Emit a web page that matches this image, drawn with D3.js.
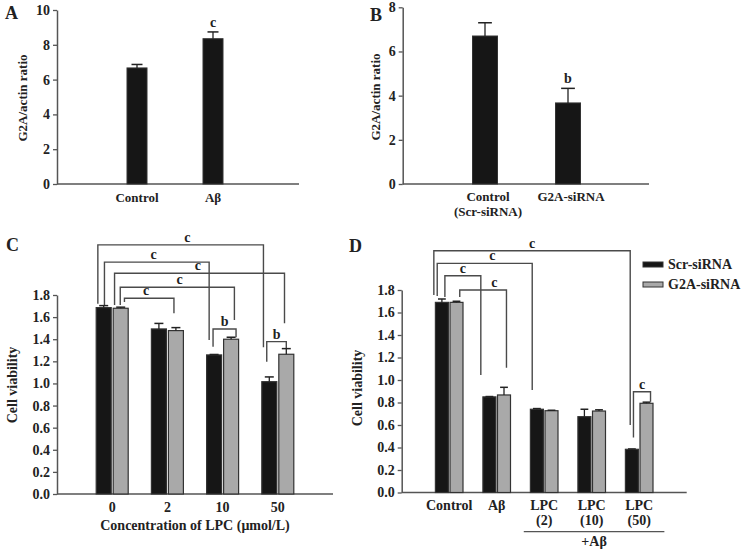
<!DOCTYPE html>
<html><head><meta charset="utf-8">
<script src="https://cdn.jsdelivr.net/npm/d3@7"></script>
<style>
body{margin:0;background:#fff}
text{font-family:"Liberation Serif","Times New Roman",serif;font-weight:bold;fill:#222}
</style>
</head><body><svg id="chart" width="746" height="554"></svg>
<script>
// ---------- DATA ----------
// Panel A
const catsA = ["Control", "Aβ"];
const valsA = [6.67, 8.35];
const errA = [0.2, 0.39];
const sigA = ["", "c"];
const ticksA = [0, 2, 4, 6, 8, 10];
// Panel B
const catsB = [["Control", "(Scr-siRNA)"], ["G2A-siRNA"]];
const valsB = [6.70, 3.67];
const errB = [0.60, 0.66];
const sigB = ["", "b"];
const ticksB = [0, 2, 4, 6, 8];
// Panel C
const catsC = ["0", "2", "10", "50"];
const scrC = [1.686, 1.493, 1.258, 1.016];
const scrErrC = [0.018, 0.05, 0.004, 0.043];
const g2aC = [1.68, 1.478, 1.40, 1.264];
const g2aErrC = [0.01, 0.027, 0.018, 0.051];
// Panel D
const catsD = [["Control"], ["Aβ"], ["LPC", "(2)"], ["LPC", "(10)"], ["LPC", "(50)"]];
const scrD = [1.69, 0.85, 0.74, 0.674, 0.384];
const scrErrD = [0.03, 0.003, 0.006, 0.066, 0.003];
const g2aD = [1.69, 0.867, 0.727, 0.724, 0.793];
const g2aErrD = [0.01, 0.068, 0.004, 0.011, 0.01];
const ticksCD = [0, 0.2, 0.4, 0.6, 0.8, 1.0, 1.2, 1.4, 1.6, 1.8];
const seriesNames = ["Scr-siRNA", "G2A-siRNA"];
// significance brackets: a/b = [group, series, offset within bar, leg end value]
const bracketsC = [
  {label: "c", top: 2.253, a: [0, 0, -0.39, 1.72], b: [3, 0, -0.39, 1.328], t: 0.54},
  {label: "c", top: 2.097, a: [0, 0, 0.05, 1.71], b: [2, 0, -0.33, 1.394], t: 0.47},
  {label: "c", top: 1.997, a: [0, 1, -0.41, 1.71], b: [3, 1, -0.12, 1.545], t: 0.49},
  {label: "c", top: 1.87, a: [0, 1, -0.03, 1.71], b: [2, 1, 0.22, 1.575], t: 0.52},
  {label: "c", top: 1.771, a: [0, 1, 0.25, 1.737], b: [1, 1, -0.13, 1.635], t: 0.44},
  {label: "b", top: 1.493, a: [2, 0, -0.07, 1.333], b: [2, 1, 0.33, 1.418], t: 0.5},
  {label: "b", top: 1.378, a: [3, 0, -0.17, 1.197], b: [3, 1, 0.0, 1.318], t: 0.5}
];
const bracketsD = [
  {label: "c", top: 2.149, a: [0, 0, -0.62, 1.756], b: [4, 0, -0.13, 0.60], t: 0.5},
  {label: "c", top: 2.037, a: [0, 0, -0.36, 1.747], b: [2, 0, -0.36, 0.911], t: 0.58},
  {label: "c", top: 1.927, a: [0, 0, 0.23, 1.738], b: [1, 0, -0.66, 1.044], t: 0.5},
  {label: "c", top: 1.80, a: [0, 1, 0.25, 1.738], b: [1, 1, 0.19, 1.109], t: 0.74},
  {label: "c", top: 0.896, a: [4, 0, 0.12, 0.49], b: [4, 1, 0.31, 0.807], t: 0.5}
];

// ---------- DRAW ----------
const svg = d3.select("#chart");
const AX = "#555", INK = "#222";

function yAxis(g, y, x0, ticks, fmt) {
  const ax = g.append("g").attr("transform", `translate(${x0},0)`)
    .call(d3.axisLeft(y).tickValues(ticks).tickSize(4).tickSizeOuter(0).tickPadding(3).tickFormat(fmt));
  ax.select(".domain").attr("stroke", AX).attr("stroke-width", 1.5);
  ax.selectAll(".tick line").attr("stroke", AX).attr("stroke-width", 1.3);
  ax.selectAll(".tick text").style("font-size", "14px").style("font-family", '"Liberation Serif",serif')
    .style("font-weight", "bold").attr("fill", INK);
}
function xLine(g, x0, x1, yy) {
  g.append("line").attr("x1", x0).attr("x2", x1).attr("y1", yy).attr("y2", yy)
    .attr("stroke", AX).attr("stroke-width", 1.5);
}
function errBar(g, cx, y, v, e, w, col) {
  g.append("line").attr("x1", cx).attr("x2", cx).attr("y1", y(v)).attr("y2", y(v + e))
    .attr("stroke", col).attr("stroke-width", 1.3);
  g.append("line").attr("x1", cx - w / 2).attr("x2", cx + w / 2).attr("y1", y(v + e)).attr("y2", y(v + e))
    .attr("stroke", col).attr("stroke-width", 1.5);
}
function vTitle(g, txt, x, yc, size) {
  g.append("text").attr("transform", `translate(${x},${yc}) rotate(-90)`)
    .attr("text-anchor", "middle").style("font-size", size + "px").text(txt);
}
function letter(txt, x, y) {
  svg.append("text").attr("x", x).attr("y", y).style("font-size", "18px").text(txt);
}

// ----- Panel A -----
(function () {
  const g = svg.append("g");
  const y = d3.scaleLinear().domain([0, 10]).range([184, 10]);
  const x = d3.scalePoint().domain(catsA).range([137, 213]);
  const bw = 20;
  xLine(g, 57, 299, y(0));
  catsA.forEach((c, i) => {
    g.append("rect").attr("x", x(c) - bw / 2).attr("y", y(valsA[i])).attr("width", bw)
      .attr("height", y(0) - y(valsA[i])).attr("fill", "#161616").attr("stroke", "#333");
    errBar(g, x(c), y, valsA[i], errA[i], bw * 0.55, INK);
    if (sigA[i]) g.append("text").attr("x", x(c)).attr("y", y(valsA[i] + errA[i]) - 5)
      .attr("text-anchor", "middle").style("font-size", "14px").text(sigA[i]);
    g.append("text").attr("x", x(c)).attr("y", 202).attr("text-anchor", "middle")
      .style("font-size", "13px").text(c);
  });
  yAxis(g, y, 57, ticksA, d3.format("d"));
  vTitle(g, "G2A/actin ratio", 27, 98, 13);
  letter("A", 5, 19);
})();

// ----- Panel B -----
(function () {
  const g = svg.append("g");
  const y = d3.scaleLinear().domain([0, 8]).range([184, 7.3]);
  const keys = catsB.map(d => d.join(" "));
  const x = d3.scalePoint().domain(keys).range([485, 568]);
  const bw = 25;
  xLine(g, 402.7, 649, y(0));
  keys.forEach((k, i) => {
    g.append("rect").attr("x", x(k) - bw / 2).attr("y", y(valsB[i])).attr("width", bw)
      .attr("height", y(0) - y(valsB[i])).attr("fill", "#161616").attr("stroke", "#333");
    errBar(g, x(k), y, valsB[i], errB[i], bw * 0.55, INK);
    if (sigB[i]) g.append("text").attr("x", x(k)).attr("y", y(valsB[i] + errB[i]) - 5)
      .attr("text-anchor", "middle").style("font-size", "14px").text(sigB[i]);
    catsB[i].forEach((line, j) => {
      g.append("text").attr("x", x(k) + 3).attr("y", 201 + j * 15).attr("text-anchor", "middle")
        .style("font-size", "13px").text(line);
    });
  });
  yAxis(g, y, 402.7, ticksB, d3.format("d"));
  vTitle(g, "G2A/actin ratio", 380, 97, 13);
  letter("B", 370, 21);
})();

// grouped panels
function grouped(cfg) {
  const g = svg.append("g");
  const y = d3.scaleLinear().domain([0, 1.8]).range([cfg.y0, cfg.y18]);
  const idx = cfg.cats.map((d, i) => i);
  const x = d3.scalePoint().domain(idx).range([cfg.x0, cfg.x1]).padding(1);
  const bw = cfg.bw, off = cfg.off;
  const series = [
    {vals: cfg.scr, errs: cfg.scrErr, fill: "#161616", ecol: INK, dx: -off},
    {vals: cfg.g2a, errs: cfg.g2aErr, fill: "#a9a9a9", ecol: INK, dx: off}
  ];
  const bx = (gi, si, o) => x(gi) + series[si].dx + o * bw;
  // brackets
  cfg.brackets.forEach(b => {
    const xa = bx(b.a[0], b.a[1], b.a[2]), xb = bx(b.b[0], b.b[1], b.b[2]);
    const path = d3.path();
    path.moveTo(xa, y(b.a[3])); path.lineTo(xa, y(b.top)); path.lineTo(xb, y(b.top)); path.lineTo(xb, y(b.b[3]));
    g.append("path").attr("d", path.toString()).attr("fill", "none").attr("stroke", "#4a4a4a").attr("stroke-width", 1.4);
    g.append("text").attr("x", xa + (xb - xa) * b.t).attr("y", y(b.top) - 3).attr("text-anchor", "middle")
      .style("font-size", "14px").text(b.label);
  });
  xLine(g, cfg.x0, cfg.x1, y(0));
  series.forEach((s, si) => {
    idx.forEach(i => {
      const cx = x(i) + s.dx;
      g.append("rect").attr("x", cx - bw / 2).attr("y", y(s.vals[i])).attr("width", bw)
        .attr("height", y(0) - y(s.vals[i])).attr("fill", s.fill).attr("stroke", "#333").attr("stroke-width", 1.2);
      errBar(g, cx, y, s.vals[i], s.errs[i], bw * 0.6, s.ecol);
    });
  });
  yAxis(g, y, cfg.x0, ticksCD, d3.format(".1f"));
  return {g, x, y};
}

// ----- Panel C -----
(function () {
  const {g, x} = grouped({cats: catsC, scr: scrC, scrErr: scrErrC, g2a: g2aC, g2aErr: g2aErrC,
    x0: 57, x1: 333, y0: 494, y18: 295, bw: 15, off: 8.5, brackets: bracketsC});
  catsC.forEach((c, i) => g.append("text").attr("x", x(i)).attr("y", 512).attr("text-anchor", "middle")
    .style("font-size", "14px").text(c));
  g.append("text").attr("x", 195).attr("y", 530).attr("text-anchor", "middle")
    .style("font-size", "14px").text("Concentration of LPC (μmol/L)");
  vTitle(g, "Cell viability", 17, 385, 14);
  letter("C", 6, 251);
})();

// ----- Panel D -----
(function () {
  const {g, x} = grouped({cats: catsD, scr: scrD, scrErr: scrErrD, g2a: g2aD, g2aErr: g2aErrD,
    x0: 401.7, x1: 686.7, y0: 492.5, y18: 290, bw: 13, off: 7.3, brackets: bracketsD});
  catsD.forEach((c, i) => c.forEach((line, j) => g.append("text").attr("x", x(i)).attr("y", 510 + j * 14.5)
    .attr("text-anchor", "middle").style("font-size", "14px").text(line)));
  const step = x.step();
  g.append("line").attr("x1", x(2) - step * 0.43).attr("x2", x(4) + step * 0.53)
    .attr("y1", 531.7).attr("y2", 531.7).attr("stroke", AX).attr("stroke-width", 1.3);
  g.append("text").attr("x", (x(2) - step * 0.43 + x(4) + step * 0.53) / 2).attr("y", 546)
    .attr("text-anchor", "middle").style("font-size", "14px").text("+Aβ");
  vTitle(g, "Cell viability", 362, 388, 14);
  letter("D", 349, 252);
  // legend
  const fills = ["#161616", "#a9a9a9"];
  seriesNames.forEach((n, i) => {
    g.append("rect").attr("x", 643).attr("y", 262 + i * 20).attr("width", 20).attr("height", 5)
      .attr("fill", fills[i]).attr("stroke", "#333").attr("stroke-width", 1);
    g.append("text").attr("x", 668).attr("y", 269 + i * 20).style("font-size", "14px").text(n);
  });
})();
</script>
</body></html>
